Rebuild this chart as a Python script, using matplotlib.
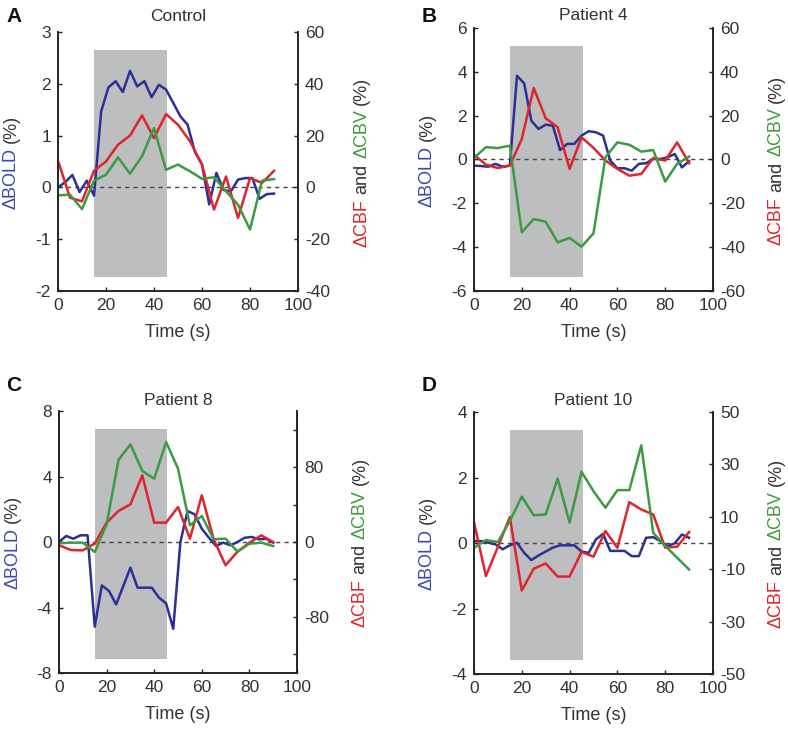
import numpy as np
import matplotlib
matplotlib.use("Agg")
import matplotlib.pyplot as plt

plt.rcParams['font.family'] = ['Liberation Sans', 'DejaVu Sans']
plt.rcParams['axes.unicode_minus'] = False

# time grids: BOLD sampled every 3 s, CBF/CBV every 5 s
t_bold = np.arange(0, 91, 3)
t_flow = np.arange(0, 91, 5)

# stimulus block (s)
stim_start = 15
stim_end = 45.5

# Panel A - Control
bold_a = [0, 0.1, 0.24, -0.09, 0.13, -0.16, 1.47, 1.93, 2.05, 1.84, 2.25, 1.95, 2.05, 1.74, 1.98, 1.89,
          1.63, 1.37, 1.21, 0.69, 0.44, -0.33, 0.28, -0.05, -0.08, 0.15, 0.18, 0.18, -0.22, -0.13, -0.12]
cbf_a = [10.3, -4, -5.4, 6.4, 10, 16.5, 20, 27.8, 19, 28.3, 24.2, 17.8, 8.8, -8.6, 4.2, -11.8, 3.6, 1.7, 6.4]
cbv_a = [-3.1, -2.8, -8.4, 2.6, 4.9, 11.6, 5.3, 12, 22.9, 6.8, 8.8, 6.2, 3.3, 3.9, -1.5, -6.7, -16.3, 2.6, 3.2]

# Panel B - Patient 4
bold_b = [-0.28, -0.3, -0.33, -0.2, -0.33, -0.28, 3.82, 3.47, 1.77, 1.39, 1.59, 1.54, 0.43, 0.71, 0.71, 1.09,
          1.29, 1.24, 1.09, -0.05, -0.4, -0.4, -0.51, -0.2, -0.17, 0.02, 0.02, 0.1, 0.25, -0.36, -0.08]
cbf_b = [2.2, -2.4, -3.9, -2.8, 9.3, 32.6, 18.8, 14.7, -4.3, 10.1, 5.3, -0.5, -4.3, -7.4, -6.6, 0.7, -0.5, 7.8, -1.7]
cbv_b = [0.7, 5.6, 5.2, 6.3, -33.2, -27.2, -28.4, -37.8, -35.8, -39.8, -33.7, 1, 7.8, 6.7, 3.6, 4.3, -10.1, -2, 1.3]

# Panel C - Patient 8
bold_c = [0, 0.37, 0.2, 0.41, 0.41, -5.17, -2.65, -2.99, -3.81, -2.69, -1.57, -2.79, -2.79, -2.79, -3.4, -3.75,
          -5.3, 0.0, 1.89, 1.69, 0.81, 0.26, -0.24, -0.04, -0.2, 0, 0.26, 0.31, 0.16, 0.2, -0.04]
cbf_c = [-3.5, -8.6, -8.9, -1.7, 20.7, 33.1, 40.3, 71.3, 20.7, 20.7, 37.4, 3.6, 49.9, 2.8, -24.9, -10.3, -0.7, 7.1, 0]
cbv_c = [-1.4, -0.7, -0.7, -10.7, 18.9, 87.7, 104.4, 75.9, 67.7, 106.9, 78.4, 17.8, 27.8, 2.9, 3.6, -10.3, -1.8, -0.7, -4.3]

# Panel D - Patient 10
bold_d = [0.06, 0.06, 0.01, -0.04, -0.19, -0.07, 0.01, -0.3, -0.52, -0.38, -0.26, -0.14, -0.07, -0.07, -0.07, -0.26,
          -0.3, 0.11, 0.28, -0.24, -0.24, -0.24, -0.4, -0.4, 0.16, 0.18, 0.06, -0.09, -0.01, 0.26, 0.16]
cbf_d = [8, -12.6, -1.5, 9.9, -18.1, -9.8, -7.8, -12.8, -12.8, -3.4, -5.2, 4.6, -1.8, 15.6, 12.8, 10.9, -1.8, -1.4, 4.2]
cbv_d = [-1.8, 1.1, 0.4, 8.4, 17.7, 10.6, 10.9, 24.6, 7.8, 27.2, 19.8, 13.5, 20.2, 20.2, 37.3, 3.9, -1.1, -5.6, -10.1]

letters = ["A", "B", "C", "D"]
titles = ["Control", "Patient 4", "Patient 8", "Patient 10"]
bolds = [bold_a, bold_b, bold_c, bold_d]
cbfs = [cbf_a, cbf_b, cbf_c, cbf_d]
cbvs = [cbv_a, cbv_b, cbv_c, cbv_d]
left_lims = [(-2, 3), (-6, 6), (-8, 8), (-4, 4)]
left_ticks = [[-2, -1, 0, 1, 2, 3], [-6, -4, -2, 0, 2, 4, 6], [-8, -4, 0, 4, 8], [-4, -2, 0, 2, 4]]
right_lims = [(-40, 60), (-60, 60), (-140, 140), (-50, 50)]
right_ticks = [[-40, -20, 0, 20, 40, 60], [-60, -40, -20, 0, 20, 40, 60],
               [-120, -80, -40, 0, 40, 80, 120], [-50, -30, -10, 10, 30, 50]]
right_labels = [["-40", "-20", "0", "20", "40", "60"], ["-60", "-40", "-20", "0", "20", "40", "60"],
                ["", "-80", "", "0", "", "80", ""], ["-50", "-30", "-10", "10", "30", "50"]]

BLUE = "#2b2f96"
RED = "#e0242b"
GREEN = "#3c9a40"
TXT = "#333333"
SPINE = "#222222"

fig = plt.figure(figsize=(7.88, 7.32), dpi=100)
positions = [[0.0736, 0.6025, 0.3046, 0.3538],
             [0.6015, 0.6025, 0.3033, 0.3593],
             [0.0749, 0.0806, 0.3020, 0.3579],
             [0.6015, 0.0792, 0.3033, 0.3579]]
letter_pos = [(0.008, 0.99), (0.535, 0.99), (0.008, 0.487), (0.535, 0.487)]
title_pads = [8, 6, 4, 5]


def vertical_label(ax, xfrac, pieces, size=13):
    # stack coloured pieces of text along a vertical (rotated) label
    renderer = fig.canvas.get_renderer()
    gap = size * 0.28 * fig.dpi / 72.0
    texts = []
    lengths = []
    for s, c in pieces:
        t = ax.text(xfrac, 0.5, s, color=c, rotation=90, transform=ax.transAxes,
                    ha='center', va='bottom', fontsize=size)
        lengths.append(t.get_window_extent(renderer).height)
        texts.append(t)
    total = sum(lengths) + gap * (len(pieces) - 1)
    y0 = ax.transAxes.transform((0, 0.5))[1] - total / 2
    for t, L in zip(texts, lengths):
        yf = ax.transAxes.inverted().transform((0, y0))[1]
        t.set_position((xfrac, yf))
        y0 += L + gap


for i in range(4):
    ax = fig.add_axes(positions[i])
    ax2 = ax.twinx()

    ax.axvspan(stim_start, stim_end, ymin=0.055, ymax=0.93, color="#bdbec0", lw=0, zorder=0)
    ax.axhline(0, color="#444444", ls=(0, (3, 3)), lw=1.0, zorder=1)
    ax.plot(t_bold, bolds[i], color=BLUE, lw=1.8, zorder=2)
    ax2.plot(t_flow, cbfs[i], color=RED, lw=1.8)
    ax2.plot(t_flow, cbvs[i], color=GREEN, lw=1.8)

    ax.set_xlim(0, 100)
    ax.set_ylim(*left_lims[i])
    ax.set_yticks(left_ticks[i])
    ax.set_xticks([0, 20, 40, 60, 80, 100])
    ax2.set_ylim(*right_lims[i])
    ax2.set_yticks(right_ticks[i])
    ax2.set_yticklabels(right_labels[i])

    for a in (ax, ax2):
        a.spines['top'].set_visible(False)
        for s in ('left', 'right', 'bottom'):
            a.spines[s].set_color(SPINE)
            a.spines[s].set_linewidth(1.2)
        a.tick_params(direction='in', length=3, width=1, colors=SPINE, labelsize=12.5,
                      labelcolor=TXT, pad=5)
    ax.patch.set_visible(False)

    ax.set_xlabel("Time (s)", fontsize=13, color=TXT, labelpad=8)
    ax.set_title(titles[i], fontsize=12.5, color=TXT, pad=title_pads[i])
    fig.text(letter_pos[i][0], letter_pos[i][1], letters[i], fontsize=15, fontweight='bold',
             color="#111111", ha='left', va='top')

    vertical_label(ax, -0.195, [("\u0394BOLD", "#3848b0"), ("(%)", TXT)])
    vertical_label(ax, 1.265, [("\u0394CBF", RED), ("and", TXT), ("\u0394CBV", GREEN), ("(%)", TXT)])

fig.savefig("out.png", dpi=100)
